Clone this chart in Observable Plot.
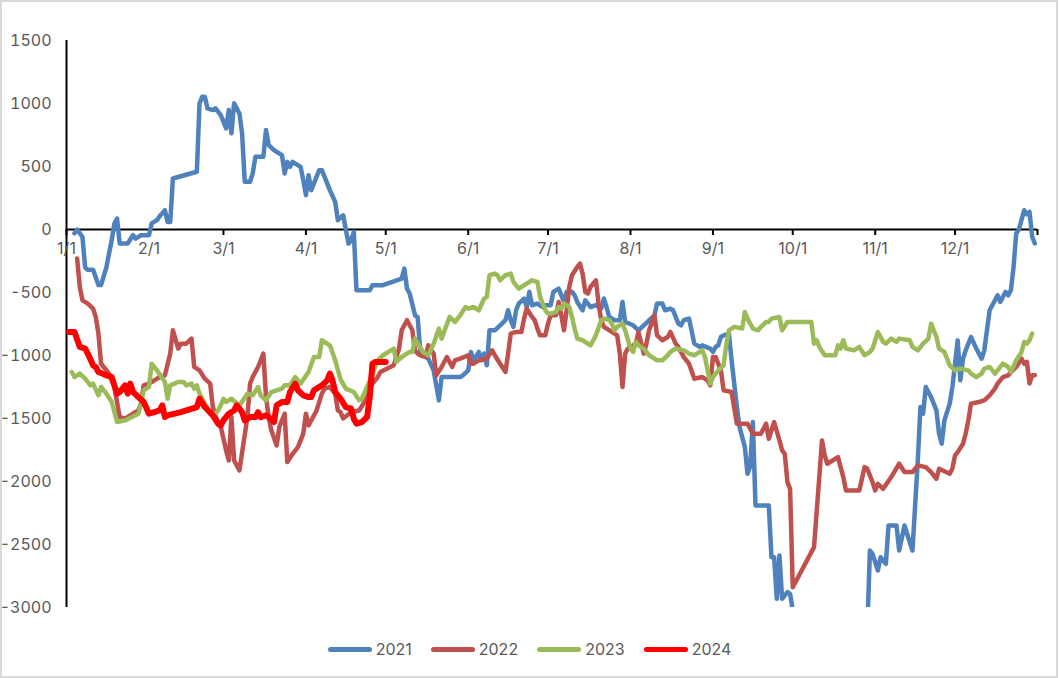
<!DOCTYPE html>
<html><head><meta charset="utf-8">
<script src="https://cdn.jsdelivr.net/npm/d3@7"></script>
<script src="https://cdn.jsdelivr.net/npm/@observablehq/plot@0.6"></script>
<style>
body{margin:0;background:#fff;font-family:Inter,"Liberation Sans",Arial,sans-serif;}
#chart{position:absolute;left:0;top:0;}
#frame{position:absolute;left:0;top:0;width:1058px;height:678px;box-sizing:border-box;border:2px solid #d9d9d9;pointer-events:none;}
#legend{position:absolute;left:0;top:639px;width:1059px;display:flex;justify-content:center;gap:19px;font-size:16px;color:#595959;line-height:20px;}
.item{display:flex;align-items:center;}
.sw{width:44px;height:5px;border-radius:3px;margin-right:4px;}
</style></head><body>
<div id="chart"></div><div id="legend"></div><div id="frame"></div>
<script>
// day of year (0 = Jan 1) and values per year
const days2021 = [3,4,6,7,8,10,12,13,15,16,17,18,19,20,23,25,26,28,31,32,34,35,36,37,38,39,40,49,50,51,52,53,55,56,58,60,61,62,63,65,66,67,69,70,71,74,75,76,78,81,82,83,84,85,88,89,90,91,92,95,96,99,101,102,104,106,107,108,109,114,115,119,126,127,128,129,131,132,133,136,138,140,141,148,149,151,152,153,155,156,157,158,159,161,163,165,166,167,168,169,170,172,173,174,175,177,179,180,182,183,185,187,188,190,191,192,194,195,197,199,201,202,203,204,206,208,209,210,213,215,217,221,222,224,225,227,228,230,231,232,234,236,238,239,242,243,244,245,246,247,249,250,251,252,253,255,256,257,258,259,264,265,266,267,268,269,271,272,274,282,292,301,302,303,305,306,308,309,312,313,315,318,320,321,322,323,325,327,328,329,330,332,333,334,335,336,337,338,340,342,344,345,346,347,350,351,353,354,355,356,357,358,360,361,362,363,364];
const vals2021 = [-30,0,-60,-300,-320,-320,-440,-440,-300,-190,-85,48,87,-111,-111,-45,-72,-45,-45,48,74,106,127,153,60,60,405,458,1001,1053,1053,961,948,961,908,802,948,763,1001,921,763,378,378,445,577,577,789,670,630,590,445,537,497,537,497,392,273,431,312,471,471,312,219,74,113,-111,-85,-19,-482,-482,-442,-442,-390,-310,-469,-508,-681,-695,-972,-1025,-1118,-1356,-1171,-1171,-1157,-1118,-972,-1038,-972,-1038,-985,-1078,-800,-800,-760,-720,-641,-720,-773,-641,-588,-548,-615,-495,-601,-588,-615,-601,-601,-495,-469,-575,-495,-495,-522,-575,-641,-562,-615,-601,-628,-548,-615,-694,-720,-720,-575,-734,-760,-800,-760,-681,-588,-588,-641,-628,-641,-747,-760,-720,-707,-906,-932,-919,-945,-972,-932,-919,-853,-840,-826,-1038,-1223,-1409,-1568,-1727,-1938,-1880,-1528,-2190,-2190,-2601,-2601,-2931,-2587,-2931,-2878,-2892,-3150,-3350,-3500,-3200,-2548,-2574,-2706,-2601,-2653,-2349,-2349,-2548,-2349,-2548,-1834,-1409,-1462,-1250,-1330,-1436,-1621,-1700,-1515,-1382,-1250,-1065,-880,-1197,-1025,-959,-853,-945,-1025,-959,-800,-641,-522,-575,-495,-522,-482,-297,-32,0,153,120,140,-59,-111];

const days2022 = [4,5,6,8,10,11,12,13,14,16,18,20,22,25,27,28,29,31,32,33,35,37,39,40,42,43,45,47,48,50,52,54,55,57,58,60,61,62,63,65,68,69,70,72,74,75,76,77,79,80,82,83,85,87,88,89,90,91,94,96,97,99,101,102,103,104,107,110,112,114,116,117,118,123,125,126,128,130,131,132,133,135,136,138,139,141,143,145,146,148,151,152,153,155,158,160,161,163,165,166,167,169,171,172,173,175,176,177,178,180,181,182,184,185,186,187,188,189,190,192,193,194,195,196,197,199,200,201,202,205,207,208,209,210,211,213,214,215,217,218,219,221,222,224,226,227,229,230,232,234,236,239,241,242,243,244,246,247,250,252,256,258,261,263,264,266,268,269,270,271,272,273,281,284,285,286,290,291,292,293,298,300,301,303,304,305,307,310,313,315,318,320,323,325,327,328,332,333,334,335,337,338,339,340,343,345,347,349,350,352,354,355,357,359,360,361,362,363,364];
const vals2022 = [-231,-456,-562,-588,-628,-694,-826,-1065,-1091,-1144,-1250,-1489,-1502,-1462,-1436,-1382,-1237,-1223,-1210,-1197,-1171,-1157,-985,-800,-945,-906,-906,-866,-1091,-1118,-1184,-1223,-1409,-1541,-1568,-1753,-1833,-1489,-1833,-1912,-1489,-1223,-1171,-1091,-985,-1330,-1489,-1594,-1714,-1568,-1462,-1846,-1780,-1727,-1674,-1621,-1462,-1555,-1436,-1303,-1263,-1250,-1303,-1436,-1449,-1500,-1449,-1436,-1369,-1250,-1197,-1171,-1131,-1078,-945,-800,-720,-800,-959,-985,-998,-1012,-919,-985,-1157,-1091,-1012,-1091,-1038,-1025,-998,-1065,-1065,-1038,-1025,-959,-998,-1065,-1131,-985,-826,-813,-813,-707,-628,-694,-720,-786,-840,-840,-747,-681,-681,-575,-681,-800,-641,-456,-363,-297,-270,-350,-495,-508,-456,-403,-588,-720,-773,-813,-840,-985,-1250,-985,-945,-919,-906,-813,-985,-906,-800,-681,-840,-879,-853,-813,-906,-932,-1012,-1065,-1184,-1171,-1197,-1237,-1012,-1012,-1118,-1276,-1290,-1541,-1541,-1621,-1621,-1541,-1661,-1528,-1674,-1753,-1780,-2005,-2058,-2839,-2521,-1674,-1793,-1859,-1806,-1886,-1965,-2071,-2071,-1886,-1899,-2005,-2071,-2018,-2058,-1965,-1859,-1925,-1925,-1872,-1886,-1925,-1978,-1899,-1938,-1899,-1793,-1767,-1700,-1621,-1515,-1382,-1369,-1356,-1316,-1263,-1223,-1171,-1157,-1131,-1091,-1025,-1065,-1051,-1223,-1157,-1157];

const days2023 = [2,3,5,7,9,10,12,13,15,17,19,22,27,28,29,30,31,32,34,37,38,39,42,44,45,47,48,49,50,52,54,56,57,58,59,60,62,65,68,70,72,73,75,77,79,81,82,84,86,88,91,93,95,96,99,101,103,105,108,110,111,113,114,116,117,119,123,124,126,129,130,131,134,136,138,140,141,144,146,148,150,151,153,155,157,158,159,161,162,163,165,167,168,170,173,175,177,178,180,181,182,184,185,186,187,189,190,191,192,194,197,199,201,202,204,205,206,207,209,210,212,213,214,215,217,219,222,224,226,227,229,232,234,236,237,239,240,241,242,243,245,247,248,249,251,254,255,256,258,260,261,263,264,265,268,269,271,280,281,282,283,285,289,290,291,292,293,296,298,300,302,303,305,307,308,310,312,313,317,318,320,322,324,325,327,328,330,332,334,336,339,340,342,344,345,347,349,352,354,355,357,359,360,361,362,363];
const vals2023 = [-1131,-1171,-1144,-1184,-1237,-1223,-1316,-1250,-1303,-1369,-1528,-1515,-1462,-1382,-1276,-1263,-1250,-1065,-1118,-1210,-1343,-1237,-1210,-1210,-1237,-1223,-1263,-1237,-1303,-1382,-1462,-1462,-1436,-1396,-1343,-1369,-1343,-1396,-1303,-1316,-1250,-1316,-1356,-1290,-1276,-1263,-1237,-1237,-1171,-1223,-1131,-1012,-1012,-879,-919,-1038,-1190,-1263,-1290,-1356,-1343,-1250,-1197,-1091,-1038,-998,-945,-1051,-1012,-972,-972,-866,-972,-998,-906,-786,-866,-694,-734,-681,-615,-628,-615,-641,-548,-535,-363,-350,-363,-403,-363,-350,-416,-469,-429,-403,-416,-535,-641,-667,-667,-654,-615,-628,-588,-615,-694,-786,-866,-879,-919,-840,-720,-707,-720,-747,-800,-773,-747,-800,-945,-972,-892,-919,-945,-998,-1038,-1038,-998,-972,-945,-959,-985,-998,-985,-959,-1012,-1118,-1223,-1171,-1118,-1078,-919,-800,-773,-786,-654,-707,-786,-800,-773,-734,-734,-707,-694,-800,-734,-734,-906,-879,-932,-998,-998,-919,-945,-879,-945,-959,-932,-998,-972,-945,-813,-892,-906,-866,-892,-866,-879,-932,-959,-906,-866,-747,-853,-945,-972,-1078,-1118,-1104,-1118,-1144,-1171,-1144,-1104,-1091,-1144,-1065,-1091,-1131,-1038,-972,-892,-906,-879,-826];

const days2024 = [1,3,5,7,8,10,11,12,15,17,18,19,20,22,23,24,25,27,29,31,33,35,36,37,38,43,49,50,52,55,57,58,59,61,63,64,66,67,68,69,71,72,73,75,76,78,79,81,83,84,86,87,89,91,92,93,96,98,99,100,101,103,105,107,108,109,111,113,114,115,116,120];
const vals2024 = [-813,-813,-932,-945,-985,-1078,-1091,-1131,-1157,-1171,-1237,-1303,-1290,-1237,-1303,-1223,-1290,-1330,-1369,-1462,-1449,-1436,-1396,-1489,-1475,-1449,-1409,-1343,-1409,-1475,-1541,-1555,-1515,-1462,-1436,-1396,-1449,-1515,-1502,-1489,-1489,-1449,-1489,-1475,-1489,-1528,-1396,-1369,-1369,-1290,-1223,-1276,-1316,-1330,-1330,-1276,-1237,-1197,-1144,-1197,-1290,-1343,-1409,-1422,-1502,-1541,-1528,-1489,-1330,-1065,-1051,-1051];

const seriesNames = ["2021","2022","2023","2024"];
const seriesColors = ["#4F81BD","#C0504D","#9BBB59","#FF0000"];
const yTicks = [-3000,-2500,-2000,-1500,-1000,-500,0,500,1000,1500];

const base = Date.UTC(2021,0,1);
const toDate = d => new Date(base + d*864e5);
const dayArrays = [days2021,days2022,days2023,days2024];
const valArrays = [vals2021,vals2022,vals2023,vals2024];
const widths = [4.5,4.5,4.5,6];

const rows = seriesNames.flatMap((name,k) => dayArrays[k].map((d,i)=>({series:name, date:toDate(d), value:valArrays[k][i]})));
const monthTicks = d3.utcMonths(toDate(0), toDate(366));
const monthLabels = monthTicks.slice(0,12);

const fmtY = v => v < 0 ? "-" + Math.abs(v) : String(v);

const lines = seriesNames.map((name,k) => Plot.lineY(rows.filter(r=>r.series===name), {
  x:"date", y:"value", stroke:seriesColors[k], strokeWidth:widths[k],
  strokeLinejoin:"round", strokeLinecap:"round", clip:true
}));

const plot = Plot.plot({
  width:1059, height:630,
  marginLeft:66, marginRight:22, marginTop:40, marginBottom:23,
  style:{fontFamily:"Inter, 'Liberation Sans', Arial, sans-serif", fontSize:"16px", color:"#595959", background:"transparent"},
  x:{type:"utc", domain:[toDate(0), toDate(365)], axis:null},
  y:{domain:[-3000,1500]},
  marks:[
    Plot.axisY({ticks:yTicks, tickSize:0, tickPadding:15, tickFormat:fmtY, fontSize:16, label:null, color:"#595959"}),
    Plot.ruleX([toDate(0)], {stroke:"black", strokeWidth:2}),
    Plot.ruleY([0], {stroke:"black", strokeWidth:2}),
    Plot.ruleX(monthTicks, {x:d=>d, y1:()=>0, y2:()=>0, insetBottom:-6, stroke:"black", strokeWidth:2}),
    ...lines,
    Plot.text(monthLabels, {x:d=>d, y:()=>0, text:d=>`${d.getUTCMonth()+1}/${d.getUTCDate()}`, dy:19, fontSize:16, fill:"#595959"})
  ]
});
document.getElementById("chart").appendChild(plot);

const legend = document.getElementById("legend");
seriesNames.forEach((name,k) => {
  const it = document.createElement("div"); it.className="item";
  const sw = document.createElement("div"); sw.className="sw"; sw.style.background = seriesColors[k];
  const tx = document.createElement("span"); tx.textContent = name;
  it.appendChild(sw); it.appendChild(tx); legend.appendChild(it);
});
</script></body></html>
